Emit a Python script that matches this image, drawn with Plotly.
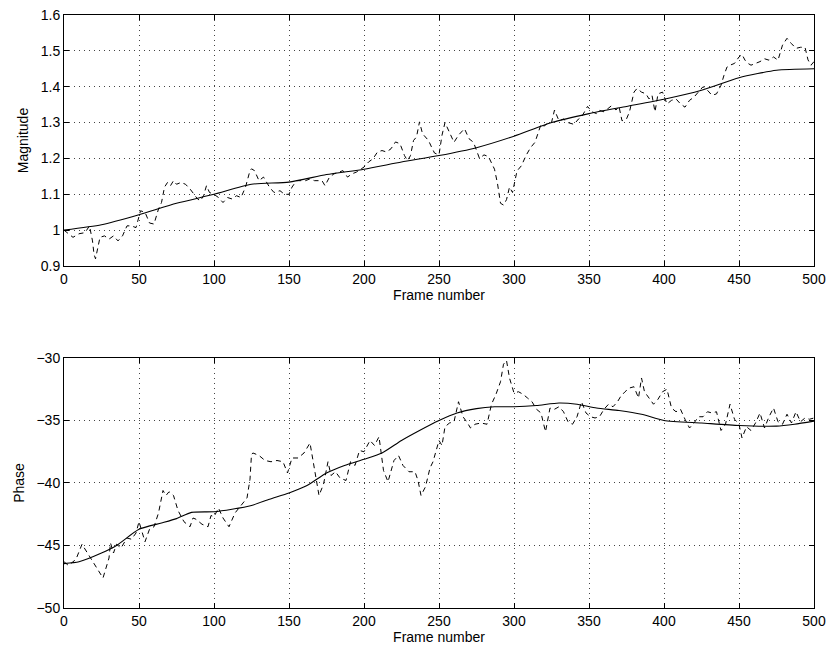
import plotly.graph_objects as go

# ---------------- data ----------------
# Magnitude: noisy measurement (dashed)
mag_noisy_frames = [0, 3, 6, 10, 14, 17, 19, 20, 21, 24, 27, 30, 33, 36, 39, 42, 45, 48, 51, 54, 57, 60, 63, 65, 67, 69, 71, 73, 75, 78, 81, 84, 87, 89, 91, 93, 95, 97, 100, 103, 106, 109, 112, 115, 118, 121, 124, 125, 127, 130, 133, 137, 140, 144, 147, 150, 152, 155, 158, 161, 164, 167, 170, 172, 174, 177, 180, 183, 186, 189, 192, 195, 198, 200, 203, 206, 209, 212, 215, 218, 221, 224, 227, 229, 231, 233, 235, 237, 239, 241, 243, 245, 247, 250, 252, 254, 257, 260, 263, 267, 270, 273, 277, 280, 283, 285, 287, 289, 291, 293, 295, 297, 299, 302, 305, 308, 311, 314, 318, 320, 323, 325, 327, 330, 333, 336, 340, 343, 345, 349, 352, 355, 357, 360, 363, 365, 368, 370, 372, 375, 377, 380, 382, 385, 388, 390, 392, 394, 396, 399, 402, 405, 408, 411, 414, 417, 420, 423, 426, 429, 432, 435, 438, 440, 442, 444, 447, 450, 452, 454, 456, 458, 461, 464, 467, 470, 473, 476, 479, 482, 485, 488, 491, 494, 496, 498, 500]
mag_noisy_values = [1.000, 0.990, 0.980, 0.990, 0.993, 1.012, 0.970, 0.933, 0.920, 0.980, 0.984, 0.975, 0.984, 0.970, 0.984, 1.012, 1.012, 1.007, 1.054, 1.050, 1.020, 1.017, 1.059, 1.077, 1.120, 1.133, 1.124, 1.138, 1.128, 1.133, 1.128, 1.115, 1.096, 1.087, 1.082, 1.096, 1.124, 1.105, 1.100, 1.091, 1.077, 1.091, 1.087, 1.096, 1.091, 1.120, 1.166, 1.171, 1.166, 1.138, 1.148, 1.120, 1.105, 1.110, 1.100, 1.100, 1.120, 1.138, 1.138, 1.138, 1.143, 1.138, 1.138, 1.138, 1.124, 1.148, 1.157, 1.162, 1.166, 1.148, 1.157, 1.162, 1.171, 1.176, 1.190, 1.199, 1.218, 1.222, 1.218, 1.227, 1.246, 1.241, 1.208, 1.194, 1.208, 1.250, 1.260, 1.302, 1.269, 1.260, 1.250, 1.232, 1.215, 1.210, 1.265, 1.300, 1.270, 1.245, 1.265, 1.283, 1.255, 1.245, 1.200, 1.210, 1.205, 1.185, 1.170, 1.130, 1.075, 1.070, 1.085, 1.120, 1.105, 1.165, 1.180, 1.208, 1.230, 1.245, 1.295, 1.290, 1.300, 1.300, 1.335, 1.305, 1.310, 1.300, 1.295, 1.310, 1.315, 1.345, 1.330, 1.325, 1.334, 1.330, 1.340, 1.347, 1.335, 1.345, 1.305, 1.310, 1.330, 1.385, 1.395, 1.385, 1.380, 1.366, 1.376, 1.330, 1.380, 1.385, 1.352, 1.362, 1.366, 1.352, 1.343, 1.362, 1.371, 1.385, 1.400, 1.390, 1.376, 1.380, 1.404, 1.432, 1.455, 1.460, 1.465, 1.483, 1.490, 1.474, 1.465, 1.460, 1.465, 1.470, 1.478, 1.474, 1.483, 1.474, 1.516, 1.535, 1.520, 1.507, 1.510, 1.510, 1.475, 1.460, 1.470]

# Magnitude: smoothed estimate (solid)
mag_smooth_frames = [0, 25, 50, 75, 100, 125, 150, 175, 200, 225, 250, 275, 300, 325, 350, 375, 400, 425, 450, 475, 500]
mag_smooth_values = [1.000, 1.015, 1.043, 1.075, 1.100, 1.128, 1.134, 1.155, 1.170, 1.190, 1.208, 1.230, 1.262, 1.300, 1.325, 1.345, 1.365, 1.390, 1.425, 1.446, 1.450]

# Phase: noisy measurement (dashed)
ph_noisy_frames = [0, 3, 5, 8, 12, 14, 18, 20, 22, 26, 30, 31, 33, 35, 38, 42, 45, 48, 50, 52, 54, 57, 60, 63, 66, 68, 70, 73, 76, 80, 84, 86, 88, 92, 96, 98, 100, 103, 106, 110, 114, 118, 122, 124, 125, 126, 130, 134, 138, 142, 146, 149, 152, 156, 160, 164, 166, 168, 170, 173, 176, 178, 181, 184, 188, 191, 194, 197, 200, 204, 207, 210, 213, 216, 220, 223, 226, 230, 234, 236, 238, 241, 244, 246, 248, 250, 252, 254, 257, 260, 263, 266, 269, 271, 274, 278, 282, 285, 288, 291, 293, 295, 297, 300, 303, 306, 309, 312, 315, 318, 321, 324, 327, 330, 333, 336, 339, 342, 345, 348, 351, 354, 357, 360, 363, 366, 369, 371, 374, 377, 380, 383, 385, 387, 390, 393, 396, 399, 402, 405, 408, 411, 414, 417, 420, 423, 426, 429, 432, 435, 438, 441, 444, 447, 450, 452, 455, 458, 461, 464, 467, 470, 473, 476, 479, 482, 485, 488, 491, 494, 497, 500]
ph_noisy_values = [-46.3, -46.6, -46.4, -46.1, -44.9, -45.3, -46.0, -46.4, -46.8, -47.6, -46.0, -44.8, -45.6, -44.9, -45.2, -44.4, -44.5, -44.0, -43.1, -43.9, -44.7, -43.7, -43.5, -42.4, -40.6, -41.0, -40.7, -41.0, -42.2, -43.1, -43.5, -42.8, -42.9, -43.3, -43.5, -42.6, -42.7, -42.0, -42.8, -43.5, -42.4, -41.8, -41.2, -39.7, -37.7, -37.6, -37.8, -38.2, -38.3, -38.2, -38.3, -39.2, -38.0, -38.0, -37.6, -36.8, -38.3, -39.8, -41.0, -40.1, -38.3, -39.4, -39.1, -39.6, -39.8, -38.3, -38.6, -37.4, -37.5, -36.6, -37.0, -36.3, -39.0, -39.9, -38.2, -37.8, -38.6, -39.1, -39.1, -39.8, -41.0, -40.3, -38.8, -38.3, -37.5, -36.6, -37.0, -35.5, -35.2, -35.1, -33.5, -34.7, -35.2, -35.6, -35.3, -35.2, -35.3, -33.7, -32.9, -31.9, -30.5, -30.2, -31.6, -32.8, -32.7, -32.9, -33.2, -33.5, -34.1, -34.4, -35.9, -34.0, -34.1, -33.9, -34.3, -35.1, -35.3, -34.7, -33.5, -34.4, -34.7, -34.8, -34.7, -34.1, -33.7, -33.9, -33.5, -33.1, -32.7, -32.4, -32.3, -33.2, -31.6, -32.7, -33.2, -33.7, -33.3, -32.7, -32.5, -34.0, -34.3, -34.1, -34.9, -35.6, -35.2, -34.7, -34.7, -34.3, -34.4, -34.3, -35.8, -35.3, -33.7, -34.9, -35.3, -36.4, -35.5, -35.8, -35.2, -34.4, -35.6, -34.7, -34.0, -35.1, -35.3, -34.5, -35.2, -34.3, -35.1, -34.8, -34.9, -34.8]

# Phase: smoothed estimate (solid)
ph_smooth_frames = [0, 10, 25, 35, 50, 65, 75, 85, 100, 112, 125, 137, 150, 162, 175, 187, 200, 212, 225, 237, 250, 262, 275, 287, 300, 315, 330, 342, 355, 370, 385, 400, 425, 450, 475, 487, 500]
ph_smooth_values = [-46.45, -46.3, -45.6, -45.0, -43.7, -43.2, -42.85, -42.35, -42.3, -42.1, -41.8, -41.3, -40.8, -40.2, -39.2, -38.6, -38.1, -37.6, -36.6, -35.8, -35.0, -34.4, -34.05, -33.9, -33.9, -33.8, -33.6, -33.7, -34.0, -34.2, -34.5, -35.0, -35.2, -35.4, -35.45, -35.3, -35.05]

x_ticks = [0, 50, 100, 150, 200, 250, 300, 350, 400, 450, 500]
mag_ticks = [0.9, 1.0, 1.1, 1.2, 1.3, 1.4, 1.5, 1.6]
mag_ticklabels = ["0.9", "1", "1.1", "1.2", "1.3", "1.4", "1.5", "1.6"]
ph_ticks = [-50, -45, -40, -35, -30]
ph_ticklabels = ["\u221250", "\u221245", "\u221240", "\u221235", "\u221230"]

# ---------------- figure ----------------
FONT = "Liberation Sans, Arial, Helvetica, sans-serif"
dash_style = dict(color="black", width=1, dash="5px,4px")
solid_style = dict(color="black", width=1.1, shape="spline", smoothing=0.6)

fig = go.Figure()
fig.add_trace(go.Scatter(x=mag_noisy_frames, y=mag_noisy_values, mode="lines",
                         line=dash_style, xaxis="x", yaxis="y", showlegend=False))
fig.add_trace(go.Scatter(x=mag_smooth_frames, y=mag_smooth_values, mode="lines",
                         line=solid_style, xaxis="x", yaxis="y", showlegend=False))
fig.add_trace(go.Scatter(x=ph_noisy_frames, y=ph_noisy_values, mode="lines",
                         line=dash_style, xaxis="x2", yaxis="y2", showlegend=False))
fig.add_trace(go.Scatter(x=ph_smooth_frames, y=ph_smooth_values, mode="lines",
                         line=solid_style, xaxis="x2", yaxis="y2", showlegend=False))

common_axis = dict(
    showline=True, linecolor="black", linewidth=1, mirror="allticks",
    ticks="inside", ticklen=5, tickcolor="black", tickwidth=1,
    showgrid=True, gridcolor="#444444", gridwidth=1, griddash="1px,4px",
    zeroline=False, automargin=False,
    tickfont=dict(family=FONT, size=14, color="black"),
)
title_font = dict(family=FONT, size=14, color="black")

fig.update_layout(
    width=827, height=652,
    margin=dict(l=64, r=13, t=15, b=44),
    paper_bgcolor="white", plot_bgcolor="white",
    font=dict(family=FONT, size=14, color="black"),
    xaxis=dict(common_axis, domain=[0, 1], range=[0, 500], tickvals=x_ticks,
               anchor="y", title=dict(text="Frame number", standoff=0, font=title_font)),
    yaxis=dict(common_axis, domain=[0.5767, 1], range=[0.9, 1.6], tickvals=mag_ticks,
               ticktext=mag_ticklabels, anchor="x",
               title=dict(text="Magnitude", standoff=8, font=title_font)),
    xaxis2=dict(common_axis, domain=[0, 1], range=[0, 500], tickvals=x_ticks,
                anchor="y2", title=dict(text="Frame number", standoff=0, font=title_font)),
    yaxis2=dict(common_axis, domain=[0, 0.4216], range=[-50, -30], tickvals=ph_ticks,
                ticktext=ph_ticklabels, anchor="x2",
                title=dict(text="Phase", standoff=8, font=title_font)),
)

fig.write_html("out.html", config={"displayModeBar": False},
               post_script="document.body.style.margin='0';document.body.style.overflow='hidden';")
